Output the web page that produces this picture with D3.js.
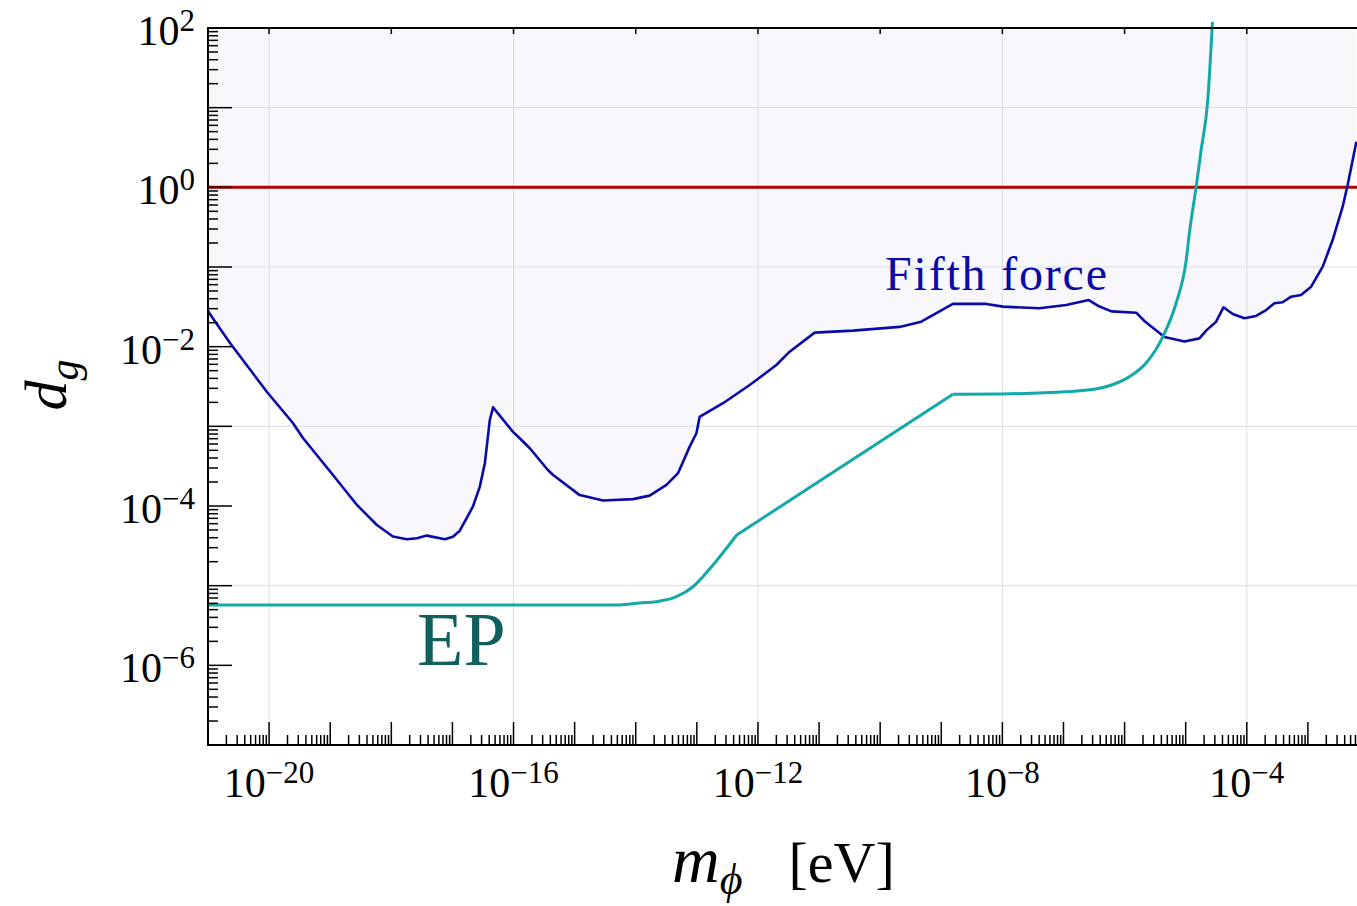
<!DOCTYPE html>
<html>
<head>
<meta charset="utf-8">
<script src="https://cdn.jsdelivr.net/npm/d3@7"></script>
<style>
  body { margin: 0; background: #fff; }
  svg { display: block; }
  text { font-family: "Liberation Serif", "Times New Roman", serif; }
</style>
</head>
<body>
<svg id="chart" width="1357" height="906"></svg>
<script>
// Fifth-force bound on the dilaton coupling d_g versus scalar mass m_phi [eV]
const fifthForceMass = [
  1.0e-21, 1.16e-21, 2.29e-21, 9.23e-21, 2.45e-20, 3.58e-20, 1.11e-19, 2.74e-19,
  5.81e-19, 1.06e-18, 1.80e-18, 2.62e-18, 3.82e-18, 7.52e-18, 1.02e-17, 1.32e-17,
  2.16e-17, 2.81e-17, 3.40e-17, 4.09e-17, 4.63e-17, 9.73e-17, 1.19e-16, 1.85e-16,
  3.64e-16, 4.45e-16, 1.21e-15, 2.92e-15, 9.04e-15, 1.69e-14, 3.18e-14, 4.92e-14,
  7.64e-14, 9.84e-14, 1.11e-13, 2.68e-13, 7.33e-13, 2.00e-12, 3.30e-12, 8.47e-12,
  3.58e-11, 2.08e-10, 4.71e-10, 1.55e-9, 5.45e-9, 1.02e-8, 4.06e-8, 1.11e-7,
  2.59e-7, 3.89e-7, 6.11e-7, 1.55e-6, 2.11e-6, 4.49e-6, 9.55e-6, 1.68e-5,
  2.16e-5, 3.15e-5, 4.15e-5, 5.89e-5, 9.14e-5, 1.42e-4, 2.07e-4, 2.83e-4,
  3.86e-4, 5.31e-4, 7.73e-4, 1.13e-3, 1.75e-3, 2.54e-3, 3.71e-3, 4.47e-3,
  5.08e-3, 6.21e-3
];
const fifthForceDg = [
  2.81e-2, 2.36e-2, 1.11e-2, 2.70e-3, 1.10e-3, 7.14e-4, 2.45e-4, 1.03e-4,
  5.77e-5, 4.14e-5, 3.82e-5, 3.94e-5, 4.25e-5, 3.82e-5, 4.12e-5, 4.90e-5,
  9.79e-5, 1.75e-4, 3.47e-4, 1.20e-3, 1.73e-3, 8.57e-4, 7.41e-4, 5.31e-4,
  2.83e-4, 2.45e-4, 1.37e-4, 1.17e-4, 1.22e-4, 1.35e-4, 1.84e-4, 2.58e-4,
  5.56e-4, 8.18e-4, 1.31e-3, 1.95e-3, 3.30e-3, 5.89e-3, 8.65e-3, 1.50e-2,
  1.59e-2, 1.77e-2, 2.06e-2, 3.44e-2, 3.44e-2, 3.18e-2, 3.03e-2, 3.33e-2,
  3.85e-2, 3.19e-2, 2.77e-2, 2.67e-2, 2.10e-2, 1.32e-2, 1.16e-2, 1.27e-2,
  1.59e-2, 2.06e-2, 3.12e-2, 2.57e-2, 2.27e-2, 2.43e-2, 2.88e-2, 3.50e-2,
  3.61e-2, 4.24e-2, 4.46e-2, 5.66e-2, 1.01e-1, 2.18e-1, 5.71e-1, 1.07,
  1.73, 3.74
];

// Equivalence-principle (EP) bound: flat tail, smooth rise, straight ramp,
// plateau, then a steep smooth rise
const epMass = [
  1.0e-21, 5.48e-15, 1.16e-14, 2.18e-14, 4.63e-14, 8.65e-14, 1.84e-13, 4.49e-13,
  1.55e-9, 9.0e-9, 1.11e-7, 3.89e-7, 6.84e-7, 1.20e-6, 2.25e-6, 4.22e-6,
  6.98e-6, 1.02e-5, 1.15e-5, 1.48e-5, 1.79e-5, 2.30e-5, 2.74e-5
];
const epDg = [
  5.73e-6, 5.73e-6, 6.07e-6, 6.30e-6, 7.28e-6, 9.70e-6, 1.82e-5, 4.33e-5,
  2.52e-3, 2.55e-3, 2.72e-3, 3.01e-3, 3.40e-3, 4.20e-3, 6.24e-3, 1.33e-2,
  3.53e-2, 1.22e-1, 2.67e-1, 1.0, 2.94, 12.5, 119
];
// Index ranges of the EP pieces: [start, end, smooth?]
const epPieces = [[0, 7, true], [7, 8, false], [8, 22, true]];

// Reference level d_g = 1
const unitCoupling = 1;

// Axis ranges, labelled decades and grid positions
const xDomain = [1e-21, 1e-2];
const yDomain = [1e-7, 1e2];
const xLabelExponents = [-20, -16, -12, -8, -4];
const yLabelExponents = [2, 0, -2, -4, -6];
const xGridExponents = [-20, -16, -12, -8, -4];
const yGridExponents = [1, -1, -3, -5];
const xTopTickExponents = [-20, -18, -16, -14, -12, -10, -8, -6, -4, -2];

const svg = d3.select("#chart");
const plot = { left: 208, top: 28, right: 1369, bottom: 745 };

const x = d3.scaleLog().domain(xDomain).range([plot.left, plot.right]);
const y = d3.scaleLog().domain(yDomain).range([plot.bottom, plot.top]);

const defs = svg.append("defs");
defs.append("clipPath").attr("id", "plotClip")
  .append("rect")
  .attr("x", plot.left).attr("y", plot.top)
  .attr("width", plot.right - plot.left).attr("height", plot.bottom - plot.top);
defs.append("clipPath").attr("id", "epClip")
  .append("rect")
  .attr("x", plot.left).attr("y", plot.top - 8)
  .attr("width", plot.right - plot.left).attr("height", plot.bottom - plot.top + 8);

const fifth = fifthForceMass.map((m, i) => ({ m, d: fifthForceDg[i] }));
const ep = epMass.map((m, i) => ({ m, d: epDg[i] }));

// Excluded region above the fifth-force curve
const g = svg.append("g").attr("clip-path", "url(#plotClip)");
g.append("path")
  .datum(fifth)
  .attr("fill", "#f8f8fc")
  .attr("d", d3.area()
    .x(p => x(p.m))
    .y0(y(yDomain[1]))
    .y1(p => y(p.d)));

// Grid lines
const gridColor = "#dcdce6";
g.selectAll("line.xgrid")
  .data(xGridExponents)
  .join("line")
  .attr("x1", e => x(10 ** e)).attr("x2", e => x(10 ** e))
  .attr("y1", plot.top).attr("y2", plot.bottom)
  .attr("stroke", gridColor).attr("stroke-width", 1);
g.selectAll("line.ygrid")
  .data(yGridExponents)
  .join("line")
  .attr("x1", plot.left).attr("x2", plot.right)
  .attr("y1", e => y(10 ** e)).attr("y2", e => y(10 ** e))
  .attr("stroke", gridColor).attr("stroke-width", 1);

// d_g = 1 line
g.append("line")
  .attr("x1", plot.left).attr("x2", plot.right)
  .attr("y1", y(unitCoupling)).attr("y2", y(unitCoupling))
  .attr("stroke", "#b30000").attr("stroke-width", 3);

// Fifth-force curve
const line = d3.line().x(p => x(p.m)).y(p => y(p.d));
g.append("path")
  .datum(fifth)
  .attr("fill", "none")
  .attr("stroke", "#0a0aa8")
  .attr("stroke-width", 2.6)
  .attr("stroke-linejoin", "round")
  .attr("d", line);

// EP curve, drawn piece by piece so the corners stay sharp
const smoothLine = d3.line().x(p => x(p.m)).y(p => y(p.d)).curve(d3.curveMonotoneX);
const epPath = epPieces
  .map(([a, b, smooth]) => (smooth ? smoothLine : line)(ep.slice(a, b + 1)))
  .join("");
svg.append("path")
  .attr("clip-path", "url(#epClip)")
  .attr("fill", "none")
  .attr("stroke", "#14a9a9")
  .attr("stroke-width", 3)
  .attr("stroke-linejoin", "round")
  .attr("d", epPath);

// Axes frame
const axes = svg.append("g").attr("stroke", "#000");
axes.append("line").attr("x1", plot.left).attr("x2", plot.left)
  .attr("y1", plot.top - 1).attr("y2", plot.bottom + 1).attr("stroke-width", 2);
axes.append("line").attr("x1", plot.left - 1).attr("x2", plot.right)
  .attr("y1", plot.bottom).attr("y2", plot.bottom).attr("stroke-width", 2);
axes.append("line").attr("x1", plot.left - 1).attr("x2", plot.right)
  .attr("y1", plot.top).attr("y2", plot.top).attr("stroke-width", 2);

// Log ticks: decades long, 2..9 short
function logTicks(domain) {
  const lo = Math.round(Math.log10(domain[0]));
  const hi = Math.round(Math.log10(domain[1]));
  const out = [];
  for (let e = lo; e <= hi; e++) {
    out.push({ v: 10 ** e, major: true });
    if (e < hi) for (let k = 2; k <= 9; k++) out.push({ v: k * 10 ** e, major: false });
  }
  return out;
}

axes.selectAll("line.xtick")
  .data(logTicks(xDomain))
  .join("line")
  .attr("x1", t => x(t.v)).attr("x2", t => x(t.v))
  .attr("y1", plot.bottom)
  .attr("y2", t => plot.bottom - (t.major ? 23 : 10))
  .attr("stroke-width", 1.5);

axes.selectAll("line.ytick")
  .data(logTicks(yDomain))
  .join("line")
  .attr("y1", t => y(t.v)).attr("y2", t => y(t.v))
  .attr("x1", plot.left)
  .attr("x2", t => plot.left + (t.major ? 24 : 10))
  .attr("stroke-width", 1.5);

axes.selectAll("line.toptick")
  .data(xTopTickExponents)
  .join("line")
  .attr("x1", e => x(10 ** e)).attr("x2", e => x(10 ** e))
  .attr("y1", plot.top).attr("y2", plot.top + 6)
  .attr("stroke-width", 1.5);

// Tick labels
const fmtExp = e => (e < 0 ? "\u2212" + (-e) : String(e));

const xl = svg.selectAll("text.xlab")
  .data(xLabelExponents)
  .join("text")
  .attr("class", "xlab")
  .attr("x", e => x(10 ** e))
  .attr("y", 797)
  .attr("text-anchor", "middle")
  .attr("font-size", 42);
xl.append("tspan").text("10");
xl.append("tspan").attr("dy", -14).attr("font-size", 31).text(e => fmtExp(e));

const yl = svg.selectAll("text.ylab")
  .data(yLabelExponents)
  .join("text")
  .attr("class", "ylab")
  .attr("x", 195)
  .attr("y", e => y(10 ** e) + 17)
  .attr("text-anchor", "end")
  .attr("font-size", 42);
yl.append("tspan").text("10");
yl.append("tspan").attr("dy", -14).attr("font-size", 31).text(e => fmtExp(e));

// Axis titles
const xt = svg.append("text")
  .attr("x", 672).attr("y", 882)
  .attr("text-anchor", "start");
xt.append("tspan").attr("font-style", "italic").attr("font-size", 66).text("m");
xt.append("tspan").attr("font-style", "italic").attr("font-size", 44).attr("dy", 12).text("\u03D5");
xt.append("tspan").attr("font-size", 58).attr("dy", -12).attr("dx", 46).text("[eV]");

const yt = svg.append("text")
  .attr("transform", "translate(66,385) rotate(-90)")
  .attr("text-anchor", "middle")
  .attr("font-size", 60);
yt.append("tspan").attr("font-style", "italic").text("d");
yt.append("tspan").attr("font-style", "italic").attr("font-size", 42).attr("dy", 12).text("g");

// Curve labels
svg.append("text")
  .attr("x", 885).attr("y", 290)
  .attr("font-size", 48)
  .attr("fill", "#0a0aa8")
  .attr("textLength", 222)
  .text("Fifth force");

svg.append("text")
  .attr("x", 417).attr("y", 665)
  .attr("font-size", 76)
  .attr("fill", "#125f5f")
  .text("EP");
</script>
</body>
</html>
